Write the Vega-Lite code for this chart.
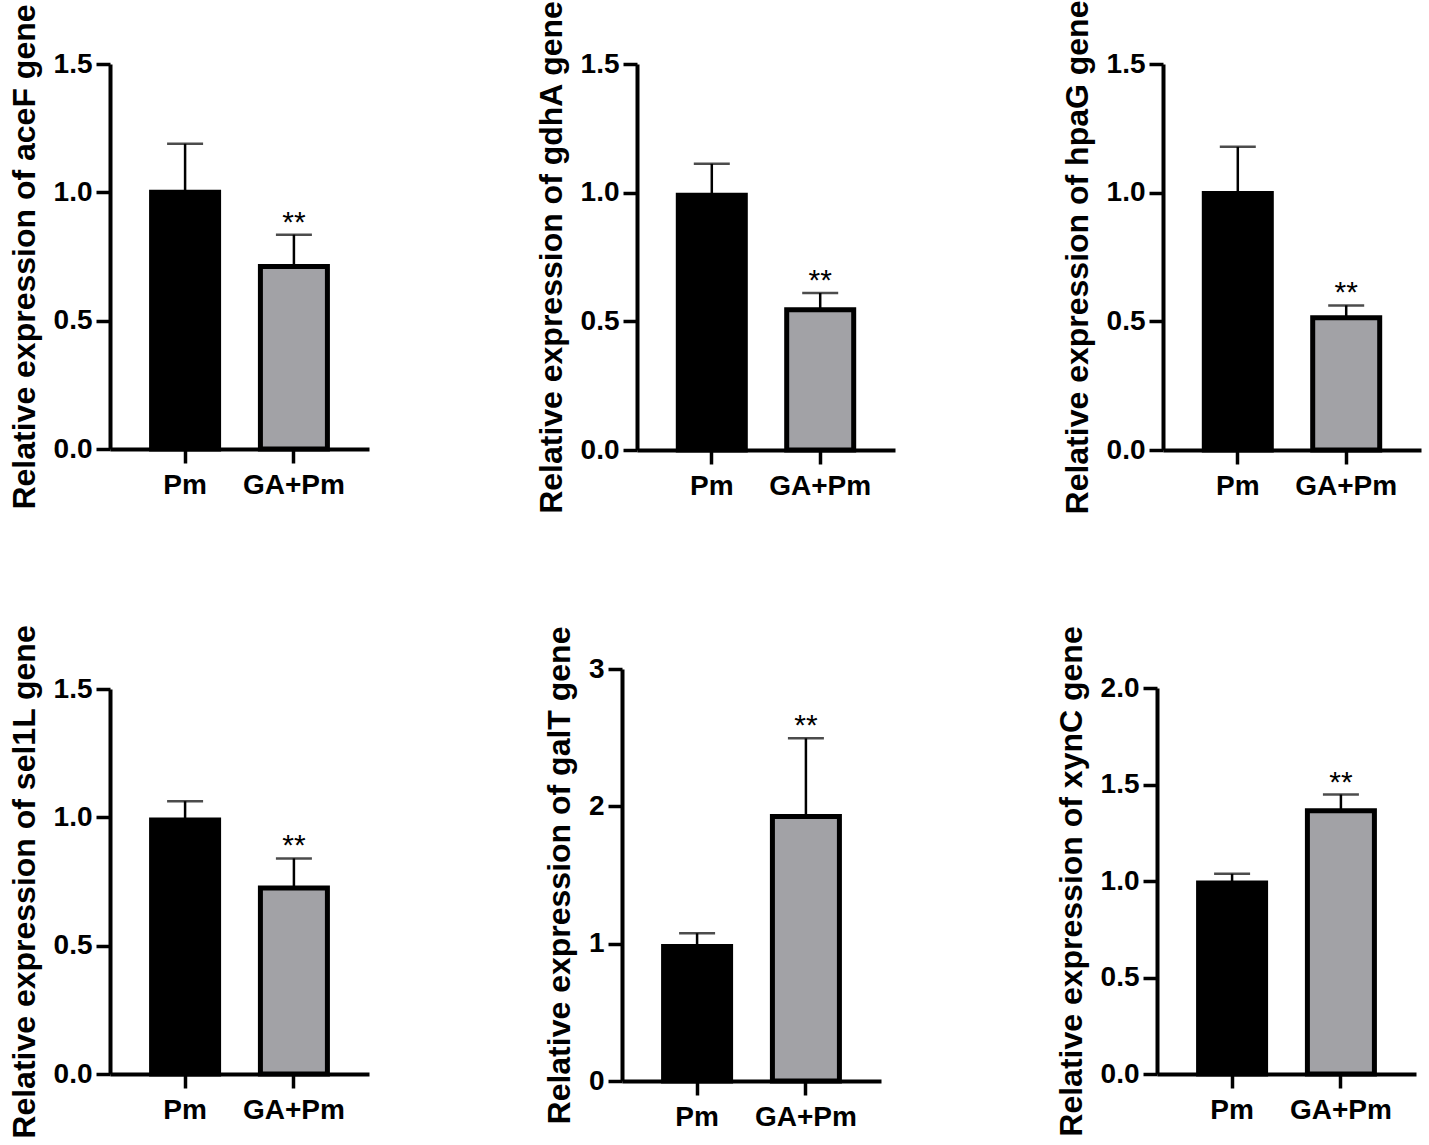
{
  "$schema": "https://vega.github.io/schema/vega-lite/v6.json",
  "background": "white",
  "padding": {"left": 8, "top": 0, "right": 5, "bottom": 5},
  "data": {
    "values": [
      {"gene": "aceF", "group": "Pm", "mean": 1.0, "upper": 1.189, "sig": ""},
      {"gene": "aceF", "group": "GA+Pm", "mean": 0.711, "upper": 0.835, "sig": "**"},
      {"gene": "gdhA", "group": "Pm", "mean": 0.99, "upper": 1.112, "sig": ""},
      {"gene": "gdhA", "group": "GA+Pm", "mean": 0.545, "upper": 0.61, "sig": "**"},
      {"gene": "hpaG", "group": "Pm", "mean": 0.997, "upper": 1.178, "sig": ""},
      {"gene": "hpaG", "group": "GA+Pm", "mean": 0.514, "upper": 0.562, "sig": "**"},
      {"gene": "sel1L", "group": "Pm", "mean": 0.99, "upper": 1.063, "sig": ""},
      {"gene": "sel1L", "group": "GA+Pm", "mean": 0.725, "upper": 0.84, "sig": "**"},
      {"gene": "galT", "group": "Pm", "mean": 0.98, "upper": 1.076, "sig": ""},
      {"gene": "galT", "group": "GA+Pm", "mean": 1.926, "upper": 2.495, "sig": "**"},
      {"gene": "xynC", "group": "Pm", "mean": 0.99, "upper": 1.037, "sig": ""},
      {"gene": "xynC", "group": "GA+Pm", "mean": 1.364, "upper": 1.448, "sig": "**"}
    ]
  },
  "spacing": 110,
  "vconcat": [
    {
      "spacing": 166,
      "hconcat": [
        {
          "width": 259,
          "height": 385,
          "transform": [{"filter": "datum.gene === 'aceF'"}],
          "encoding": {
            "x": {"field": "group", "type": "nominal", "sort": ["Pm", "GA+Pm"],
              "scale": {"domain": ["Pm", "GA+Pm"], "paddingInner": 0.34, "paddingOuter": 0.36},
              "axis": {"title": null, "labelAngle": 0, "labelPadding": 8}}
          },
          "layer": [
            {
              "mark": {"type": "bar", "width": 67, "stroke": "black", "strokeWidth": 5},
              "encoding": {
                "y": {"field": "mean", "type": "quantitative",
                  "scale": {"domain": [0, 1.5], "nice": false},
                  "axis": {"values": [0, 0.5, 1, 1.5], "format": ".1f", "title": "Relative expression of aceF gene"}},
                "color": {"field": "group", "type": "nominal",
                  "scale": {"domain": ["Pm", "GA+Pm"], "range": ["#000000", "#a2a2a6"]}, "legend": null}
              }
            },
            {
              "mark": {"type": "rule", "strokeWidth": 2.5, "color": "black"},
              "encoding": {"y": {"field": "mean", "type": "quantitative"}, "y2": {"field": "upper"}}
            },
            {
              "mark": {"type": "tick", "size": 36, "thickness": 2.5, "color": "black", "orient": "horizontal"},
              "encoding": {"y": {"field": "upper", "type": "quantitative"}}
            },
            {
              "mark": {"type": "text", "font": "Liberation Sans", "fontSize": 30, "baseline": "alphabetic", "dy": -3, "color": "black"},
              "encoding": {"y": {"field": "upper", "type": "quantitative"}, "text": {"field": "sig"}}
            }
          ]
        },
        {
          "width": 258,
          "height": 386,
          "transform": [{"filter": "datum.gene === 'gdhA'"}],
          "encoding": {
            "x": {"field": "group", "type": "nominal", "sort": ["Pm", "GA+Pm"],
              "scale": {"domain": ["Pm", "GA+Pm"], "paddingInner": 0.34, "paddingOuter": 0.36},
              "axis": {"title": null, "labelAngle": 0, "labelPadding": 8}}
          },
          "layer": [
            {
              "mark": {"type": "bar", "width": 67, "stroke": "black", "strokeWidth": 5},
              "encoding": {
                "y": {"field": "mean", "type": "quantitative",
                  "scale": {"domain": [0, 1.5], "nice": false},
                  "axis": {"values": [0, 0.5, 1, 1.5], "format": ".1f", "title": "Relative expression of gdhA gene"}},
                "color": {"field": "group", "type": "nominal",
                  "scale": {"domain": ["Pm", "GA+Pm"], "range": ["#000000", "#a2a2a6"]}, "legend": null}
              }
            },
            {
              "mark": {"type": "rule", "strokeWidth": 2.5, "color": "black"},
              "encoding": {"y": {"field": "mean", "type": "quantitative"}, "y2": {"field": "upper"}}
            },
            {
              "mark": {"type": "tick", "size": 36, "thickness": 2.5, "color": "black", "orient": "horizontal"},
              "encoding": {"y": {"field": "upper", "type": "quantitative"}}
            },
            {
              "mark": {"type": "text", "font": "Liberation Sans", "fontSize": 30, "baseline": "alphabetic", "dy": -3, "color": "black"},
              "encoding": {"y": {"field": "upper", "type": "quantitative"}, "text": {"field": "sig"}}
            }
          ]
        },
        {
          "width": 258,
          "height": 386,
          "transform": [{"filter": "datum.gene === 'hpaG'"}],
          "encoding": {
            "x": {"field": "group", "type": "nominal", "sort": ["Pm", "GA+Pm"],
              "scale": {"domain": ["Pm", "GA+Pm"], "paddingInner": 0.34, "paddingOuter": 0.36},
              "axis": {"title": null, "labelAngle": 0, "labelPadding": 8}}
          },
          "layer": [
            {
              "mark": {"type": "bar", "width": 67, "stroke": "black", "strokeWidth": 5},
              "encoding": {
                "y": {"field": "mean", "type": "quantitative",
                  "scale": {"domain": [0, 1.5], "nice": false},
                  "axis": {"values": [0, 0.5, 1, 1.5], "format": ".1f", "title": "Relative expression of hpaG gene"}},
                "color": {"field": "group", "type": "nominal",
                  "scale": {"domain": ["Pm", "GA+Pm"], "range": ["#000000", "#a2a2a6"]}, "legend": null}
              }
            },
            {
              "mark": {"type": "rule", "strokeWidth": 2.5, "color": "black"},
              "encoding": {"y": {"field": "mean", "type": "quantitative"}, "y2": {"field": "upper"}}
            },
            {
              "mark": {"type": "tick", "size": 36, "thickness": 2.5, "color": "black", "orient": "horizontal"},
              "encoding": {"y": {"field": "upper", "type": "quantitative"}}
            },
            {
              "mark": {"type": "text", "font": "Liberation Sans", "fontSize": 30, "baseline": "alphabetic", "dy": -3, "color": "black"},
              "encoding": {"y": {"field": "upper", "type": "quantitative"}, "text": {"field": "sig"}}
            }
          ]
        }
      ]
    },
    {
      "spacing": 174,
      "hconcat": [
        {
          "width": 259,
          "height": 412,
          "transform": [{"filter": "datum.gene === 'sel1L'"}],
          "encoding": {
            "x": {"field": "group", "type": "nominal", "sort": ["Pm", "GA+Pm"],
              "scale": {"domain": ["Pm", "GA+Pm"], "paddingInner": 0.34, "paddingOuter": 0.36},
              "axis": {"title": null, "labelAngle": 0, "labelPadding": 8, "offset": -7}}
          },
          "layer": [
            {
              "mark": {"type": "bar", "width": 67, "stroke": "black", "strokeWidth": 5},
              "encoding": {
                "y": {"field": "mean", "type": "quantitative",
                  "scale": {"domain": [0, 1.5], "nice": false, "range": [405, 20]},
                  "axis": {"values": [0, 0.5, 1, 1.5], "format": ".1f", "title": "Relative expression of sel1L gene"}},
                "color": {"field": "group", "type": "nominal",
                  "scale": {"domain": ["Pm", "GA+Pm"], "range": ["#000000", "#a2a2a6"]}, "legend": null}
              }
            },
            {
              "mark": {"type": "rule", "strokeWidth": 2.5, "color": "black"},
              "encoding": {"y": {"field": "mean", "type": "quantitative"}, "y2": {"field": "upper"}}
            },
            {
              "mark": {"type": "tick", "size": 36, "thickness": 2.5, "color": "black", "orient": "horizontal"},
              "encoding": {"y": {"field": "upper", "type": "quantitative"}}
            },
            {
              "mark": {"type": "text", "font": "Liberation Sans", "fontSize": 30, "baseline": "alphabetic", "dy": -3, "color": "black"},
              "encoding": {"y": {"field": "upper", "type": "quantitative"}, "text": {"field": "sig"}}
            }
          ]
        },
        {
          "width": 259,
          "height": 412,
          "transform": [{"filter": "datum.gene === 'galT'"}],
          "encoding": {
            "x": {"field": "group", "type": "nominal", "sort": ["Pm", "GA+Pm"],
              "scale": {"domain": ["Pm", "GA+Pm"], "paddingInner": 0.34, "paddingOuter": 0.36},
              "axis": {"title": null, "labelAngle": 0, "labelPadding": 8}}
          },
          "layer": [
            {
              "mark": {"type": "bar", "width": 67, "stroke": "black", "strokeWidth": 5},
              "encoding": {
                "y": {"field": "mean", "type": "quantitative",
                  "scale": {"domain": [0, 3], "nice": false},
                  "axis": {"values": [0, 1, 2, 3], "format": "d", "title": "Relative expression of galT gene"}},
                "color": {"field": "group", "type": "nominal",
                  "scale": {"domain": ["Pm", "GA+Pm"], "range": ["#000000", "#a2a2a6"]}, "legend": null}
              }
            },
            {
              "mark": {"type": "rule", "strokeWidth": 2.5, "color": "black"},
              "encoding": {"y": {"field": "mean", "type": "quantitative"}, "y2": {"field": "upper"}}
            },
            {
              "mark": {"type": "tick", "size": 36, "thickness": 2.5, "color": "black", "orient": "horizontal"},
              "encoding": {"y": {"field": "upper", "type": "quantitative"}}
            },
            {
              "mark": {"type": "text", "font": "Liberation Sans", "fontSize": 30, "baseline": "alphabetic", "dy": -3, "color": "black"},
              "encoding": {"y": {"field": "upper", "type": "quantitative"}, "text": {"field": "sig"}}
            }
          ]
        },
        {
          "width": 259,
          "height": 412,
          "transform": [{"filter": "datum.gene === 'xynC'"}],
          "encoding": {
            "x": {"field": "group", "type": "nominal", "sort": ["Pm", "GA+Pm"],
              "scale": {"domain": ["Pm", "GA+Pm"], "paddingInner": 0.34, "paddingOuter": 0.36},
              "axis": {"title": null, "labelAngle": 0, "labelPadding": 8, "offset": -7}}
          },
          "layer": [
            {
              "mark": {"type": "bar", "width": 67, "stroke": "black", "strokeWidth": 5},
              "encoding": {
                "y": {"field": "mean", "type": "quantitative",
                  "scale": {"domain": [0, 2], "nice": false, "range": [405, 19]},
                  "axis": {"values": [0, 0.5, 1, 1.5, 2], "format": ".1f", "title": "Relative expression of xynC gene"}},
                "color": {"field": "group", "type": "nominal",
                  "scale": {"domain": ["Pm", "GA+Pm"], "range": ["#000000", "#a2a2a6"]}, "legend": null}
              }
            },
            {
              "mark": {"type": "rule", "strokeWidth": 2.5, "color": "black"},
              "encoding": {"y": {"field": "mean", "type": "quantitative"}, "y2": {"field": "upper"}}
            },
            {
              "mark": {"type": "tick", "size": 36, "thickness": 2.5, "color": "black", "orient": "horizontal"},
              "encoding": {"y": {"field": "upper", "type": "quantitative"}}
            },
            {
              "mark": {"type": "text", "font": "Liberation Sans", "fontSize": 30, "baseline": "alphabetic", "dy": -3, "color": "black"},
              "encoding": {"y": {"field": "upper", "type": "quantitative"}, "text": {"field": "sig"}}
            }
          ]
        }
      ]
    }
  ],
  "config": {
    "view": {"stroke": null},
    "axis": {
      "grid": false,
      "domainColor": "black",
      "domainWidth": 4,
      "tickColor": "black",
      "tickWidth": 3.5,
      "tickSize": 14,
      "labelFont": "Liberation Sans",
      "labelFontSize": 28,
      "labelFontWeight": "bold",
      "labelColor": "black",
      "labelPadding": 4,
      "titleFont": "Liberation Sans",
      "titleFontSize": 32,
      "titleFontWeight": "bold",
      "titleColor": "black",
      "titlePadding": 12
    }
  }
}
